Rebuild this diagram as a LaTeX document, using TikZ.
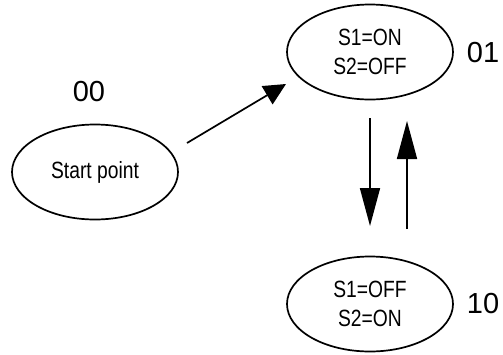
\documentclass[tikz,border=0pt]{standalone}
\usepackage{fontspec}
\setmainfont{Liberation Sans}
\newfontfamily\narrowsans{Liberation Sans}[FakeStretch=0.82]
\usetikzlibrary{arrows.meta,shapes.geometric}
\tikzset{
  state/.style={draw, line width=1.7pt, ellipse, minimum width=166pt, minimum height=95pt, inner sep=0pt, align=center, font=\narrowsans\fontsize{23.5}{28.5}\selectfont},
  code/.style={font=\fontsize{29}{30}\selectfont, inner sep=0pt},
  conn/.style={line width=1.7pt, -{Triangle[length=22pt,width=21pt]}},
  vconn/.style={line width=1.7pt, -{Triangle[length=38pt,width=20pt]}}
}
\begin{document}
\begin{tikzpicture}[x=1pt,y=-1pt]
\useasboundingbox (0,0) rectangle (503,354);
\node[state] (start) at (95,172) {Start point};
\node[state] (on) at (370,52) {S1=ON\\S2=OFF};
\node[state] (off) at (370,304) {S1=OFF\\S2=ON};
\node[code] (l00) at (89,92) {00};
\node[code] (l01) at (483,52.5) {01};
\node[code] (l10) at (483,304) {10};
\coordinate (a1) at (187,143);
\coordinate (a2) at (286,84);
\coordinate (d1) at (370,118);
\coordinate (d2) at (370,226);
\coordinate (u1) at (407,229);
\coordinate (u2) at (407,121);
\draw[conn] (a1) -- (a2);
\draw[vconn] (d1) -- (d2);
\draw[vconn] (u1) -- (u2);
\end{tikzpicture}
\end{document}
